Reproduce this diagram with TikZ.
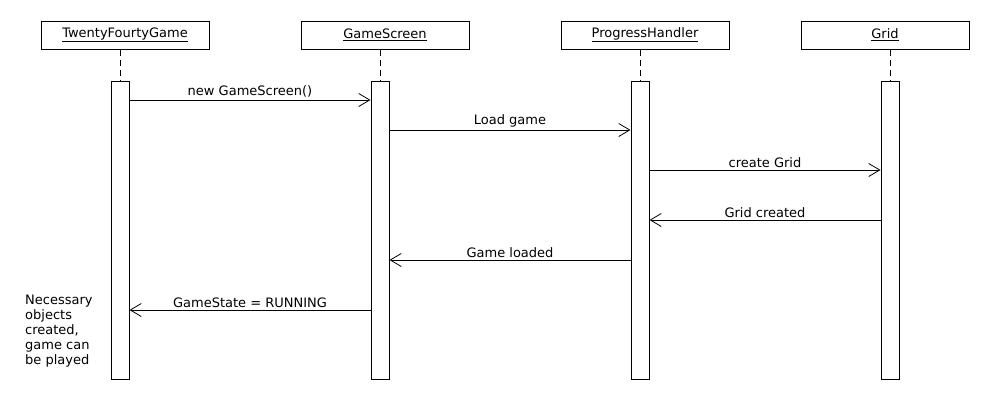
\documentclass[tikz,border=0pt]{standalone}
\usepackage{fontspec}
\setmainfont{DejaVu Sans}
\usetikzlibrary{arrows.meta}
\begin{document}
\begin{tikzpicture}[
  x=1pt, y=-1pt,
  seqhead/.style = {draw, line width=1pt, minimum width=168pt, minimum height=28pt,
    inner sep=0pt, font=\fontsize{13}{15}\selectfont},
  seqbar/.style = {draw, line width=1pt, fill=white, minimum width=18pt,
    minimum height=298pt, inner sep=0pt},
  seqlife/.style = {line width=1pt, dash pattern=on 6pt off 4pt},
  seqmsg/.style = {line width=1pt, -{Straight Barb[length=11pt, width=13pt, line width=0.8pt]}},
  seqlbl/.style = {font=\fontsize{13}{15}\selectfont, inner sep=2pt}
]
  \useasboundingbox (0,0) rectangle (990,400);
  % objects
  \node[seqhead] (tfg) at (125,35) {\underline{TwentyFourtyGame}};
  \node[seqhead] (gs) at (385,35) {\underline{GameScreen}};
  \node[seqhead] (ph) at (645,35) {\underline{ProgressHandler}};
  \node[seqhead] (grid) at (885,35) {\underline{Grid}};
  % activations
  \node[seqbar] (tfgbar) at (120,230) {};
  \node[seqbar] (gsbar) at (380,230) {};
  \node[seqbar] (phbar) at (640,230) {};
  \node[seqbar] (gridbar) at (890,230) {};
  % lifelines
  \draw[seqlife] (tfgbar.north |- tfg.south) -- (tfgbar.north);
  \draw[seqlife] (gsbar.north |- gs.south) -- (gsbar.north);
  \draw[seqlife] (phbar.north |- ph.south) -- (phbar.north);
  \draw[seqlife] (gridbar.north |- grid.south) -- (gridbar.north);
  % messages
  \draw[seqmsg] (tfgbar.east |- 0,100) -- (gsbar.west |- 0,100)
    node[seqlbl, midway, above] {new GameScreen()};
  \draw[seqmsg] (gsbar.east |- 0,130) -- (phbar.west |- 0,130)
    node[seqlbl, midway, above] {Load game};
  \draw[seqmsg] (phbar.east |- 0,170) -- (gridbar.west |- 0,170)
    node[seqlbl, midway, above] {create Grid};
  \draw[seqmsg] (gridbar.west |- 0,220) -- (phbar.east |- 0,220)
    node[seqlbl, midway, above] {Grid created};
  \draw[seqmsg] (phbar.west |- 0,260) -- (gsbar.east |- 0,260)
    node[seqlbl, midway, above] {Game loaded};
  \draw[seqmsg] (gsbar.west |- 0,310) -- (tfgbar.east |- 0,310)
    node[seqlbl, midway, above] {GameState = RUNNING};
  % note
  \node[seqlbl, align=left, anchor=north west]
    (note) at (23,293) {Necessary\\objects\\created,\\game can\\be played};
\end{tikzpicture}
\end{document}
